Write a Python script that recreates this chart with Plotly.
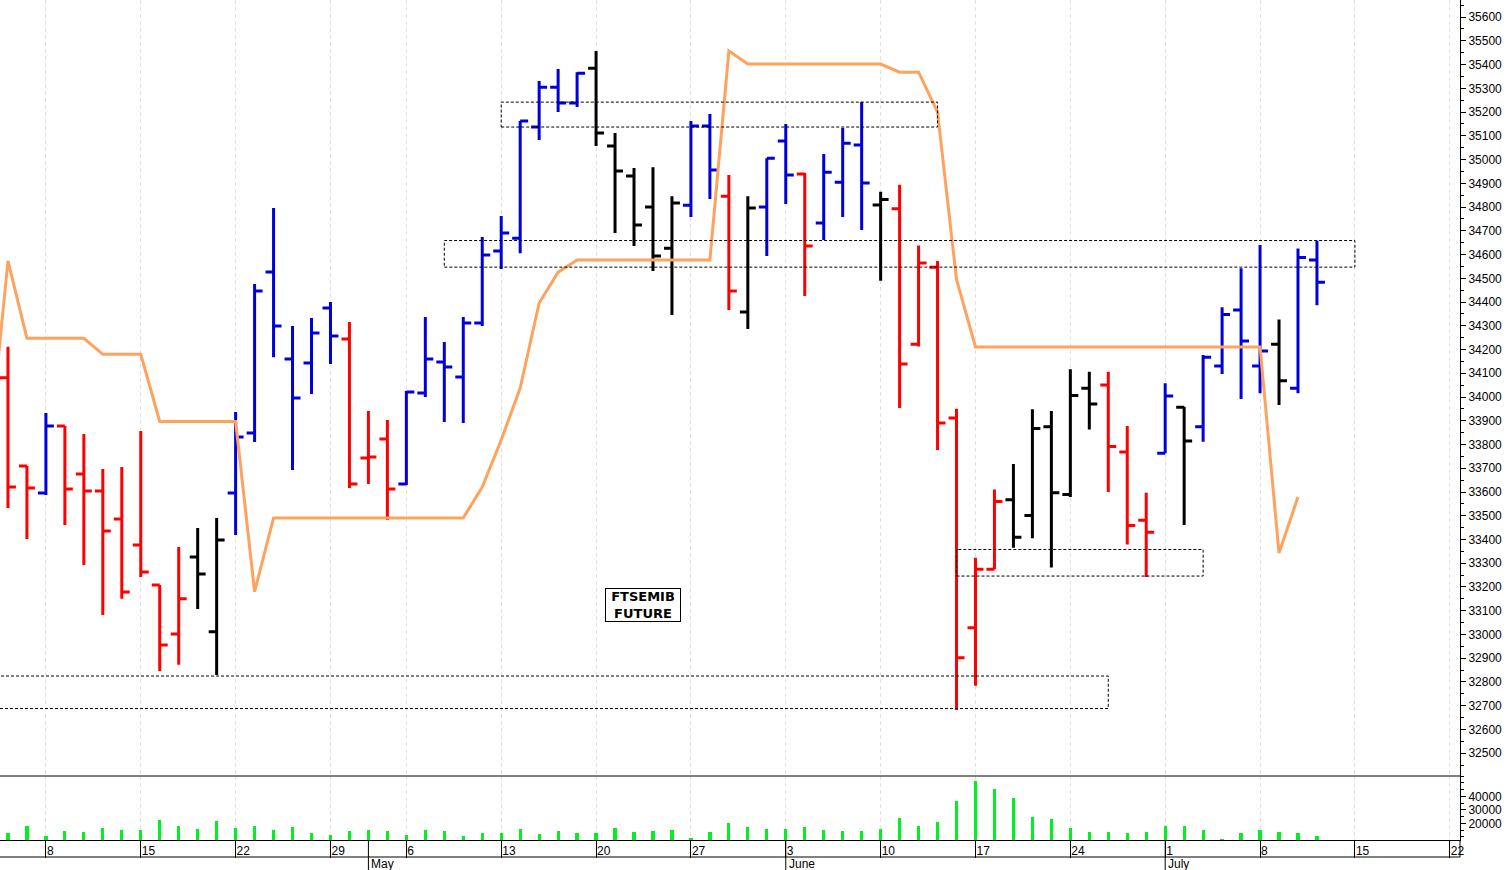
import pandas as pd
import plotly.graph_objects as go

# ---------------- data ----------------
# trading calendar (Borsa Italiana closed on 1 May)
calendar = [d for d in pd.bdate_range("2024-04-04", "2024-07-22") if d.strftime("%m-%d") != "05-01"]

bar_open = [34081, 33710, 33596, 33878, 33676, 33604, 33486, 33377, 33208, 33002,
            33326, 33011, 33596, 33848, 34526, 34160, 34143, 34375, 34244, 33743,
            33823, 33634, 34017, 34147, 34084, 34312, 34615, 34669, 35137, 35305,
            35238, 35385, 35057, 34931, 34800, 34627, 34808, 35141, 34846, 34358,
            34800, 35078, 34939, 34733, 34905, 35061, 34809, 34793, 34222, 34547,
            33912, 33028, 33275, 33567, 33501, 33875, 33589, 34037, 34051, 33769,
            33481, 33763, 33957, 33875, 34131, 34366, 34131, 34222, 34037, 34577]
bar_high = [34212, 33710, 33933, 33878, 33844, 33697, 33705, 33857, 33208, 33368,
            33448, 33491, 33937, 34476, 34796, 34299, 34333, 34400, 34316, 33941,
            33903, 34025, 34337, 34232, 34337, 34674, 34762, 35162, 35331, 35381,
            35368, 35457, 35112, 34964, 34968, 34846, 35162, 35192, 34935, 34846,
            35006, 35150, 34943, 35023, 35133, 35242, 34865, 34894, 34638, 34573,
            33951, 33323, 33611, 33718, 33948, 33941, 34117, 34106, 34106, 33878,
            33597, 34058, 33959, 34177, 34378, 34542, 34640, 34327, 34626, 34658]
bar_low = [33533, 33402, 33587, 33461, 33293, 33082, 33150, 33242, 32846, 32872,
           33107, 32829, 33419, 33811, 34168, 33693, 34013, 34139, 33617, 33634,
           33482, 33630, 34000, 33895, 33891, 34299, 34539, 34606, 35082, 35200,
           35221, 35057, 34691, 34636, 34531, 34345, 34758, 34834, 34366, 34286,
           34594, 34813, 34425, 34661, 34758, 34703, 34490, 33954, 34213, 33777,
           32682, 32784, 33275, 33365, 33405, 33282, 33579, 33863, 33600, 33379,
           33242, 33763, 33461, 33812, 34097, 33992, 34016, 33966, 34016, 34387]
bar_close = [33621, 33617, 33878, 33613, 33604, 33436, 33179, 33263, 32956, 33150,
             33255, 33398, 33832, 34446, 34299, 33996, 34270, 34257, 33634, 33747,
             33613, 34021, 34160, 34126, 34312, 34598, 34691, 35162, 35305, 35238,
             35364, 35112, 34952, 34724, 34594, 34817, 35141, 34956, 34446, 34796,
             35006, 34935, 34636, 34947, 35069, 34901, 34832, 34139, 34564, 33891,
             32902, 33275, 33560, 33409, 33867, 33597, 34006, 33971, 33792, 33459,
             33431, 34004, 33815, 34167, 34348, 34236, 34194, 34069, 34588, 34483]
# bar colour class: R = red, B = blue, K = black
bar_class = list("RRBRRRRRRRKKBBBBBBRRRBBBBBBBBBBKKKKKBBRKBBRBBBKRRRRRRKKKKKRRRBKBBBBKBB")

volume = [12600, 18000, 10600, 14100, 13800, 16300, 14800, 15300, 22400, 18000,
          15600, 21700, 16700, 18000, 14800, 17300, 12600, 11100, 14100, 14800,
          14100, 11100, 14800, 14100, 10600, 12600, 12600, 15600, 12100, 14300,
          12600, 12800, 16700, 13300, 14100, 15000, 9300, 13300, 20400, 17000,
          15600, 15600, 17000, 14800, 14100, 14300, 16000, 23900, 18000, 21000,
          36300, 51600, 45200, 38700, 24700, 23000, 16500, 13300, 13800, 12600,
          13800, 18000, 18000, 14800, 8400, 12600, 14800, 13800, 12600, 10800]

# stop line (one value per bar, first value belongs to the session before 4 April)
stop_x = list(range(-1, 70))
stop_line = [33770, 34573, 34247, 34247, 34247, 34247, 34180, 34180, 34180, 33897,
             33897, 33897, 33897, 33897, 33180, 33491, 33491, 33491, 33491, 33491,
             33491, 33491, 33491, 33491, 33491, 33491, 33621, 33819, 34038, 34396,
             34526, 34577, 34577, 34577, 34577, 34577, 34577, 34577, 34577, 35457,
             35402, 35402, 35402, 35402, 35402, 35402, 35402, 35402, 35368, 35368,
             35200, 34495, 34211, 34211, 34211, 34211, 34211, 34211, 34211, 34211,
             34211, 34211, 34211, 34211, 34211, 34211, 34211, 34211, 33343, 33579]

# dotted price zones: (first bar, last bar, low, high)
zone_x0 = [26, 23, 50, -2]
zone_x1 = [49, 71, 63, 58]
zone_lo = [35137, 34547, 33246, 32688]
zone_hi = [35242, 34659, 33358, 32825]

title_text = "FTSEMIB<br>FUTURE"
colour_of = {"R": "#ff0000", "B": "#0000dd", "K": "#000000"}

# ---------------- figure ----------------
bar_x = list(range(len(bar_open)))
fig = go.Figure()

for cls in ["R", "B", "K"]:
    sel = [i for i in bar_x if bar_class[i] == cls]
    c = colour_of[cls]
    fig.add_trace(go.Ohlc(
        x=sel,
        open=[bar_open[i] for i in sel], high=[bar_high[i] for i in sel],
        low=[bar_low[i] for i in sel], close=[bar_close[i] for i in sel],
        increasing=dict(line=dict(color=c, width=3)),
        decreasing=dict(line=dict(color=c, width=3)),
        tickwidth=0.42, xaxis="x", yaxis="y", showlegend=False, hoverinfo="skip"))

fig.add_trace(go.Scatter(x=stop_x, y=stop_line, mode="lines",
                         line=dict(color="#ffa25e", width=3),
                         xaxis="x", yaxis="y", showlegend=False, hoverinfo="skip"))

fig.add_trace(go.Bar(x=bar_x, y=volume, width=0.17, marker=dict(color="#00f020", line=dict(width=0)),
                     xaxis="x", yaxis="y2", showlegend=False, hoverinfo="skip"))

# ticks: Mondays with day number, month names at first session of the month
monday_idx = [i for i, d in enumerate(calendar) if d.weekday() == 0]
monday_txt = [str(calendar[i].day) for i in monday_idx]
month_idx = [i for i in range(1, len(calendar)) if calendar[i].month != calendar[i - 1].month]
month_txt = [calendar[i].strftime("%B") for i in month_idx]

W, H = 1508, 870
ML, MR, MT, MB = 0, 48, 0, 30
plot_h = H - MT - MB
vol_frac = 64 / plot_h

axis_font = dict(family="Liberation Sans, Arial, sans-serif", size=12, color="#000000")

fig.update_layout(
    width=W, height=H,
    margin=dict(l=ML, r=MR, t=MT, b=MB, pad=0),
    paper_bgcolor="white", plot_bgcolor="white",
    showlegend=False, bargap=0,
    font=axis_font,
    xaxis=dict(
        anchor="y2", range=[-0.42, 76.54], rangeslider=dict(visible=False),
        tickmode="array", tickvals=monday_idx, ticktext=monday_txt,
        ticks="outside", ticklen=17, tickcolor="#000000", tickwidth=1,
        ticklabelposition="outside right", tickfont=axis_font,
        showline=True, linecolor="#000000", linewidth=1,
        showgrid=True, gridcolor="#e2e2e2", gridwidth=1, griddash="4px,3px",
        zeroline=False, fixedrange=True),
    yaxis=dict(
        domain=[vol_frac, 1], anchor="x", side="right", range=[32404, 35672],
        tick0=0, dtick=100, ticks="outside", ticklen=5, tickcolor="#000000",
        minor=dict(dtick=50, ticks="outside", ticklen=3, tickcolor="#000000", showgrid=False),
        showline=True, linecolor="#000000", linewidth=1, showgrid=False, zeroline=False,
        tickfont=axis_font, tickformat="d", fixedrange=True),
    yaxis2=dict(
        domain=[0, vol_frac], anchor="x", side="right", range=[7630, 55035],
        tickmode="array", tickvals=[20000, 30000, 40000], ticks="outside", ticklen=5,
        tickcolor="#000000",
        minor=dict(tickmode="linear", tick0=0, dtick=5000, ticks="outside", ticklen=3,
                   tickcolor="#000000", showgrid=False),
        showline=True, linecolor="#000000", linewidth=1, showgrid=False, zeroline=False,
        tickfont=axis_font, tickformat="d", fixedrange=True),
)

shapes = []
for x0, x1, lo, hi in zip(zone_x0, zone_x1, zone_lo, zone_hi):
    shapes.append(dict(type="rect", xref="x", yref="y", x0=x0, x1=x1, y0=lo, y1=hi,
                       line=dict(color="#000000", width=1, dash="3px,2px"),
                       fillcolor="rgba(0,0,0,0)", layer="above"))
# separator between price and volume panels
shapes.append(dict(type="line", xref="paper", yref="paper", x0=0, x1=1, y0=vol_frac, y1=vol_frac,
                   line=dict(color="#000000", width=1)))
# date-row bottom line and axis extension
row_bottom = -17 / plot_h
shapes.append(dict(type="line", xref="paper", yref="paper", x0=0, x1=1, y0=row_bottom, y1=row_bottom,
                   line=dict(color="#000000", width=1)))
shapes.append(dict(type="line", xref="paper", yref="paper", x0=1, x1=1, y0=row_bottom, y1=0,
                   line=dict(color="#000000", width=1)))
# month separators
for mi in month_idx:
    shapes.append(dict(type="line", xref="x", yref="paper", x0=mi, x1=mi, y0=0, y1=-30 / plot_h,
                       line=dict(color="#000000", width=1)))
fig.update_layout(shapes=shapes)

annotations = []
for mi, mt in zip(month_idx, month_txt):
    annotations.append(dict(x=mi, y=-24 / plot_h, xref="x", yref="paper", text=mt,
                            showarrow=False, xanchor="left", yanchor="middle", xshift=1,
                            font=axis_font))
annotations.append(dict(x=643 / (W - ML - MR), y=(plot_h - 604.5) / plot_h, xref="paper", yref="paper",
                        text=title_text, showarrow=False, xanchor="center", yanchor="middle",
                        bordercolor="#000000", borderwidth=1, borderpad=0, bgcolor="white",
                        width=74, height=32, align="center",
                        font=dict(family="DejaVu Sans, sans-serif", size=13, color="#000000",
                                  weight="bold")))
fig.update_layout(annotations=annotations)

fig.write_html("out.html", config={"displayModeBar": False},
               post_script="document.body.style.margin='0';document.body.style.overflow='hidden';")
